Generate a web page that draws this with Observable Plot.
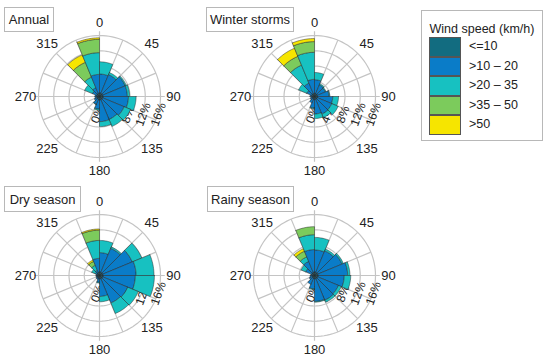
<!DOCTYPE html>
<html><head><meta charset="utf-8">
<script src="https://cdn.jsdelivr.net/npm/d3@7"></script>
<script src="https://cdn.jsdelivr.net/npm/@observablehq/plot@0.6"></script>
<style>
body{margin:0;background:#fff;font-family:"Liberation Sans",Arial,sans-serif;color:#222;}
#root{position:relative;width:550px;height:360px;overflow:hidden;background:#fff;}
.panel{position:absolute;}
.title{position:absolute;border:1px solid #b8b8b8;background:#fff;font-size:13px;box-sizing:border-box;display:flex;align-items:center;justify-content:center;white-space:nowrap;}
.legend{position:absolute;left:421px;top:10px;width:122px;height:131px;border:1px solid #b8b8b8;box-sizing:border-box;background:#fff;}
.legend .lt{position:absolute;left:0;right:0;top:11px;text-align:center;font-size:12.5px;}
.legend .sw{position:absolute;left:7px;width:32px;height:19.5px;box-sizing:border-box;border:0.6px solid #555;}
.legend .sl{position:absolute;left:47px;font-size:12.5px;line-height:19.5px;white-space:nowrap;}
</style></head><body><div id="root"></div>
<script>
// ---- data ----
const directions = [0, 22.5, 45, 67.5, 90, 112.5, 135, 157.5, 180, 202.5, 225, 247.5, 270, 292.5, 315, 337.5];
const speedClasses = ["<=10", ">10 \u2013 20", ">20 \u2013 35", ">35 \u2013 50", ">50"];
const classColors = ["#126c80", "#0a7cc8", "#17c1c1", "#7ccb5c", "#f6e500"];
const ringTicks = [0, 4, 8, 12, 16];
const dirLabels = [0, 45, 90, 135, 180, 225, 270, 315];

// frequencies (%) per direction sector, one array per speed class
const annualLe10   = [0.9, 0.9, 0.9, 0.9, 0.9, 0.9, 0.9, 0.9, 0.9, 0.8, 0.8, 0.7, 0.7, 0.8, 0.8, 0.9];
const annual10to20 = [5.0, 5.3, 6.4, 6.4, 6.7, 6.1, 5.6, 5.7, 2.4, 1.4, 0.7, 0.5, 0.5, 1.2, 1.7, 4.9];
const annual20to35 = [3.2, 0.6, 0.3, 0.6, 2.0, 1.8, 2.0, 1.3, 0.3, 0.1, 0.0, 0.0, 0.0, 2.2, 3.0, 5.7];
const annual35to50 = [0.0, 0.0, 0.0, 0.0, 0.0, 0.0, 0.0, 0.0, 0.0, 0.0, 0.0, 0.0, 0.0, 0.0, 4.2, 3.5];
const annualGt50   = [0.0, 0.0, 0.0, 0.0, 0.0, 0.0, 0.0, 0.0, 0.0, 0.0, 0.0, 0.0, 0.0, 0.0, 2.1, 0.4];

const winterLe10   = [0.8, 0.8, 0.8, 0.8, 0.8, 0.8, 0.8, 0.8, 0.8, 0.7, 0.7, 0.6, 0.6, 0.8, 0.8, 0.8];
const winter10to20 = [3.6, 2.5, 2.3, 3.0, 4.0, 4.1, 4.2, 3.8, 2.2, 1.1, 0.5, 0.4, 0.6, 1.4, 3.0, 3.7];
const winter20to35 = [1.9, 0.3, 0.2, 0.2, 1.5, 1.8, 1.0, 1.2, 0.2, 0.0, 0.0, 0.0, 0.0, 2.3, 5.1, 7.1];
const winter35to50 = [0.0, 0.0, 0.0, 0.0, 0.0, 0.0, 0.0, 0.0, 0.0, 0.0, 0.0, 0.0, 0.0, 0.0, 2.5, 2.8];
const winterGt50   = [0.0, 0.0, 0.0, 0.0, 0.0, 0.0, 0.0, 0.0, 0.0, 0.0, 0.0, 0.0, 0.0, 0.0, 2.3, 0.8];

const dryLe10   = [0.9, 0.9, 0.9, 0.9, 0.9, 0.9, 0.9, 0.9, 0.8, 0.7, 0.6, 0.6, 0.6, 0.7, 0.8, 0.9];
const dry10to20 = [5.1, 6.8, 8.4, 8.7, 8.5, 7.1, 6.9, 4.6, 1.0, 0.4, 0.4, 0.3, 0.3, 0.5, 0.7, 3.6];
const dry20to35 = [3.2, 0.4, 2.7, 4.7, 5.0, 3.0, 3.0, 1.4, 0.2, 0.0, 0.0, 0.0, 0.0, 1.0, 1.4, 4.7];
const dry35to50 = [0.0, 0.0, 0.0, 0.0, 0.0, 0.0, 0.0, 0.0, 0.0, 0.0, 0.0, 0.0, 0.0, 0.0, 1.1, 2.7];
const dryGt50   = [0.0, 0.0, 0.0, 0.0, 0.0, 0.0, 0.0, 0.0, 0.0, 0.0, 0.0, 0.0, 0.0, 0.0, 0.4, 0.3];

const rainyLe10   = [0.9, 0.9, 0.9, 0.9, 0.9, 0.9, 0.9, 0.9, 0.8, 0.8, 0.7, 0.6, 0.6, 0.8, 0.8, 0.9];
const rainy10to20 = [5.8, 6.1, 6.9, 7.8, 6.9, 5.9, 6.1, 5.9, 2.7, 1.7, 0.8, 0.6, 0.4, 1.7, 3.2, 5.9];
const rainy20to35 = [3.3, 0.5, 0.4, 0.6, 1.7, 0.8, 0.6, 0.2, 0.2, 0.0, 0.0, 0.0, 0.0, 1.3, 1.3, 3.9];
const rainy35to50 = [0.0, 0.0, 0.0, 0.0, 0.0, 0.0, 0.0, 0.0, 0.0, 0.0, 0.0, 0.0, 0.0, 0.0, 1.6, 2.1];
const rainyGt50   = [0.0, 0.0, 0.0, 0.0, 0.0, 0.0, 0.0, 0.0, 0.0, 0.0, 0.0, 0.0, 0.0, 0.0, 0.7, 0.0];

// ---- layout (positions only) ----
const panels = [
  {title: "Annual",        series: [annualLe10, annual10to20, annual20to35, annual35to50, annualGt50], cx: 99,  cy: 96,  box: [4, 7, 50, 25]},
  {title: "Winter storms", series: [winterLe10, winter10to20, winter20to35, winter35to50, winterGt50], cx: 314, cy: 96,  box: [206, 7, 88, 25]},
  {title: "Dry season",    series: [dryLe10, dry10to20, dry20to35, dry35to50, dryGt50],               cx: 99,  cy: 275, box: [4, 186, 77, 26]},
  {title: "Rainy season",  series: [rainyLe10, rainy10to20, rainy20to35, rainy35to50, rainyGt50],     cx: 314, cy: 275, box: [207, 186, 87, 26]}
];
const SIZE = 180;              // svg side (px)
const OUTER = 16;              // outer ring value (%)
const OUTER_PX = 61;           // outer ring radius in px
const RMAX = OUTER * (SIZE / 2) / OUTER_PX;
const LABEL_R = OUTER * 74 / OUTER_PX;
const rad = Math.PI / 180;
const sectorWidth = 360 / directions.length;
const font = "Liberation Sans, Arial, sans-serif";

function polar(r, a) { return {x: r * Math.sin(a * rad), y: r * Math.cos(a * rad)}; }

function sectorPolys(series) {
  const out = [];
  const N = 12;
  directions.forEach((dir, i) => {
    let r0 = 0;
    series.forEach((vals, c) => {
      const v = vals[i];
      const r1 = r0 + v;
      if (v > 0) {
        const id = i + "-" + c;
        const pts = [];
        for (let k = 0; k <= N; k++) pts.push([r1, dir + sectorWidth * k / N]);
        if (r0 > 0) for (let k = N; k >= 0; k--) pts.push([r0, dir + sectorWidth * k / N]);
        else pts.push([0, 0]);
        pts.push(pts[0]);
        pts.forEach(([r, a]) => out.push({id, cls: speedClasses[c], ...polar(r, a)}));
      }
      r0 = r1;
    });
  });
  return out;
}

const ringPts = [];
ringTicks.filter(r => r > 0).forEach(r => {
  for (let a = 0; a <= 360; a += 3) ringPts.push({r, ...polar(r, a)});
});
const spokes = d3.range(0, 360, sectorWidth).map(a => ({a, len: a % 90 === 0 ? OUTER * 1.07 : OUTER}));

function rose(p) {
  return Plot.plot({
    width: SIZE, height: SIZE,
    margin: 0,
    style: {fontFamily: font, background: "transparent", overflow: "visible"},
    x: {domain: [-RMAX, RMAX], axis: null},
    y: {domain: [-RMAX, RMAX], axis: null},
    color: {type: "ordinal", domain: speedClasses, range: classColors},
    marks: [
      Plot.line(ringPts, {x: "x", y: "y", z: "r", stroke: "#c4c4c4", strokeWidth: 1.2}),
      Plot.link(spokes, {x1: () => 0, y1: () => 0, x2: d => polar(d.len, d.a).x, y2: d => polar(d.len, d.a).y, stroke: "#c4c4c4", strokeWidth: 1.2}),
      Plot.text(ringTicks, {x: d => d, y: () => 0, dx: -2, dy: 18, text: d => d + "%", rotate: -70, fontSize: 12, fill: "#222"}),
      Plot.line(sectorPolys(p.series), {x: "x", y: "y", z: "id", fill: "cls", stroke: "#2a2a2a", strokeWidth: 0.5, curve: "linear"}),
      Plot.text(dirLabels, {x: d => polar(LABEL_R, d).x, y: d => polar(LABEL_R, d).y, text: d => String(d), fontSize: 13, fill: "#222"})
    ]
  });
}

const root = document.getElementById("root");
panels.forEach(p => {
  const wrap = document.createElement("div");
  wrap.className = "panel";
  wrap.style.left = (p.cx - SIZE / 2) + "px";
  wrap.style.top = (p.cy - SIZE / 2) + "px";
  wrap.appendChild(rose(p));
  root.appendChild(wrap);
});
panels.forEach(p => {
  const t = document.createElement("div");
  t.className = "title";
  t.textContent = p.title;
  const [l, tp, w, h] = p.box;
  Object.assign(t.style, {left: l + "px", top: tp + "px", width: w + "px", height: h + "px"});
  root.appendChild(t);
});
// legend
const lg = document.createElement("div");
lg.className = "legend";
const lt = document.createElement("div");
lt.className = "lt";
lt.textContent = "Wind speed (km/h)";
lg.appendChild(lt);
speedClasses.forEach((c, i) => {
  const sw = document.createElement("div");
  sw.className = "sw";
  sw.style.top = (26 + i * 19.5) + "px";
  sw.style.background = classColors[i];
  lg.appendChild(sw);
  const sl = document.createElement("div");
  sl.className = "sl";
  sl.style.top = (26 + i * 19.5) + "px";
  sl.textContent = c;
  lg.appendChild(sl);
});
root.appendChild(lg);
</script>
</body></html>
